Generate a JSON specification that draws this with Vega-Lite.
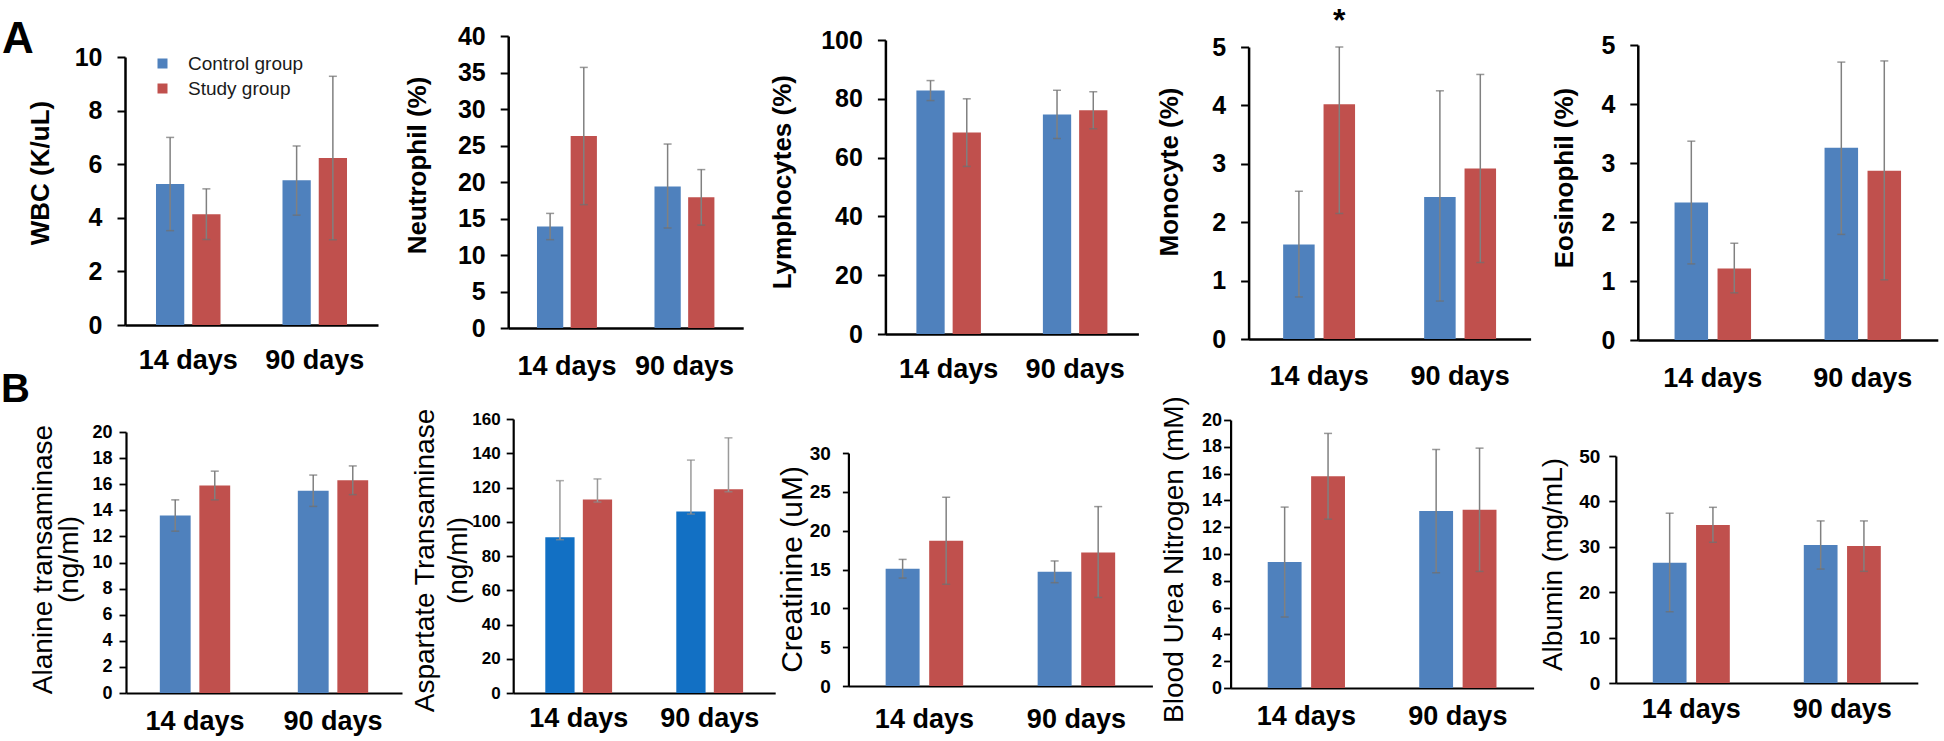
{
  "$schema": "https://vega.github.io/schema/vega-lite/v6.json",
  "padding": 0,
  "background": "white",
  "data": {"values": [
    {"panel": "WBC", "time": "14 days", "group": "Control group", "value": 5.26, "lo": 3.52, "hi": 7.0, "sig": ""},
    {"panel": "WBC", "time": "14 days", "group": "Study group", "value": 4.13, "lo": 3.19, "hi": 5.08, "sig": ""},
    {"panel": "WBC", "time": "90 days", "group": "Control group", "value": 5.4, "lo": 4.1, "hi": 6.68, "sig": ""},
    {"panel": "WBC", "time": "90 days", "group": "Study group", "value": 6.23, "lo": 3.18, "hi": 9.28, "sig": ""},
    {"panel": "NEU", "time": "14 days", "group": "Control group", "value": 13.9, "lo": 12.1, "hi": 15.7, "sig": ""},
    {"panel": "NEU", "time": "14 days", "group": "Study group", "value": 26.3, "lo": 16.9, "hi": 35.7, "sig": ""},
    {"panel": "NEU", "time": "90 days", "group": "Control group", "value": 19.4, "lo": 13.7, "hi": 25.2, "sig": ""},
    {"panel": "NEU", "time": "90 days", "group": "Study group", "value": 17.9, "lo": 14.1, "hi": 21.7, "sig": ""},
    {"panel": "LYM", "time": "14 days", "group": "Control group", "value": 82.8, "lo": 79.4, "hi": 86.2, "sig": ""},
    {"panel": "LYM", "time": "14 days", "group": "Study group", "value": 68.5, "lo": 57.0, "hi": 80.0, "sig": ""},
    {"panel": "LYM", "time": "90 days", "group": "Control group", "value": 74.7, "lo": 66.5, "hi": 82.9, "sig": ""},
    {"panel": "LYM", "time": "90 days", "group": "Study group", "value": 76.1, "lo": 69.8, "hi": 82.4, "sig": ""},
    {"panel": "MON", "time": "14 days", "group": "Control group", "value": 1.62, "lo": 0.72, "hi": 2.53, "sig": ""},
    {"panel": "MON", "time": "14 days", "group": "Study group", "value": 4.02, "lo": 2.15, "hi": 5.0, "sig": "*"},
    {"panel": "MON", "time": "90 days", "group": "Control group", "value": 2.43, "lo": 0.65, "hi": 4.25, "sig": ""},
    {"panel": "MON", "time": "90 days", "group": "Study group", "value": 2.92, "lo": 1.31, "hi": 4.53, "sig": ""},
    {"panel": "EOS", "time": "14 days", "group": "Control group", "value": 2.33, "lo": 1.29, "hi": 3.37, "sig": ""},
    {"panel": "EOS", "time": "14 days", "group": "Study group", "value": 1.21, "lo": 0.8, "hi": 1.64, "sig": ""},
    {"panel": "EOS", "time": "90 days", "group": "Control group", "value": 3.26, "lo": 1.79, "hi": 4.71, "sig": ""},
    {"panel": "EOS", "time": "90 days", "group": "Study group", "value": 2.87, "lo": 1.02, "hi": 4.73, "sig": ""},
    {"panel": "ALT", "time": "14 days", "group": "Control group", "value": 13.6, "lo": 12.4, "hi": 14.8, "sig": ""},
    {"panel": "ALT", "time": "14 days", "group": "Study group", "value": 15.9, "lo": 14.8, "hi": 17.0, "sig": ""},
    {"panel": "ALT", "time": "90 days", "group": "Control group", "value": 15.5, "lo": 14.3, "hi": 16.7, "sig": ""},
    {"panel": "ALT", "time": "90 days", "group": "Study group", "value": 16.3, "lo": 15.2, "hi": 17.4, "sig": ""},
    {"panel": "AST", "time": "14 days", "group": "Control group", "value": 91, "lo": 89.5, "hi": 124, "sig": ""},
    {"panel": "AST", "time": "14 days", "group": "Study group", "value": 113, "lo": 111.5, "hi": 125, "sig": ""},
    {"panel": "AST", "time": "90 days", "group": "Control group", "value": 106, "lo": 104.5, "hi": 136, "sig": ""},
    {"panel": "AST", "time": "90 days", "group": "Study group", "value": 119, "lo": 117.5, "hi": 149, "sig": ""},
    {"panel": "CRE", "time": "14 days", "group": "Control group", "value": 15.1, "lo": 13.9, "hi": 16.3, "sig": ""},
    {"panel": "CRE", "time": "14 days", "group": "Study group", "value": 18.7, "lo": 13.1, "hi": 24.3, "sig": ""},
    {"panel": "CRE", "time": "90 days", "group": "Control group", "value": 14.7, "lo": 13.3, "hi": 16.1, "sig": ""},
    {"panel": "CRE", "time": "90 days", "group": "Study group", "value": 17.2, "lo": 11.4, "hi": 23.1, "sig": ""},
    {"panel": "BUN", "time": "14 days", "group": "Control group", "value": 9.4, "lo": 5.3, "hi": 13.5, "sig": ""},
    {"panel": "BUN", "time": "14 days", "group": "Study group", "value": 15.8, "lo": 12.6, "hi": 19.0, "sig": ""},
    {"panel": "BUN", "time": "90 days", "group": "Control group", "value": 13.2, "lo": 8.6, "hi": 17.8, "sig": ""},
    {"panel": "BUN", "time": "90 days", "group": "Study group", "value": 13.3, "lo": 8.7, "hi": 17.9, "sig": ""},
    {"panel": "ALB", "time": "14 days", "group": "Control group", "value": 26.5, "lo": 15.7, "hi": 37.4, "sig": ""},
    {"panel": "ALB", "time": "14 days", "group": "Study group", "value": 34.8, "lo": 31.0, "hi": 38.7, "sig": ""},
    {"panel": "ALB", "time": "90 days", "group": "Control group", "value": 30.4, "lo": 25.1, "hi": 35.7, "sig": ""},
    {"panel": "ALB", "time": "90 days", "group": "Study group", "value": 30.2, "lo": 24.6, "hi": 35.7, "sig": ""}
  ]},
  "columns": 5,
  "spacing": 0,
  "bounds": "flush",
  "resolve": {"scale": {"color": "independent", "x": "independent", "y": "independent", "xOffset": "independent"}},
  "concat": [
    {
      "width": 388.8, "height": 370,
      "transform": [{"filter": "datum.panel === 'WBC'"}],
      "title": {"text": "A", "anchor": "start", "frame": "group", "orient": "top", "offset": -97, "baseline": "alphabetic", "fontSize": 44, "fontWeight": "bold", "font": "Liberation Sans", "color": "#000", "dx": 2},
      "resolve": {"axis": {"y": "independent"}},
      "encoding": {
        "x": {"field": "time", "type": "nominal", "sort": ["14 days", "90 days"], "scale": {"range": [125, 378], "paddingInner": 0.49, "paddingOuter": 0.245}, "axis": {"title": null, "labelAngle": 0, "labelPadding": 22, "offset": -45}},
        "xOffset": {"field": "group", "type": "nominal", "sort": ["Control group", "Study group"], "scale": {"paddingInner": 0.22, "paddingOuter": 0}}
      },
      "layer": [
        {"mark": {"type": "bar"}, "encoding": {
          "y": {"field": "value", "type": "quantitative", "scale": {"domain": [0, 10], "range": [325, 57], "nice": false}, "axis": {"title": "WBC (K/uL)", "values": [0, 2, 4, 6, 8, 10], "offset": -125, "titleX": -71.5, "titleY": 172.5}},
          "color": {"field": "group", "type": "nominal", "scale": {"domain": ["Control group", "Study group"], "range": ["#4F81BD", "#C0504D"]}, "legend": {"orient": "none", "legendX": 153, "legendY": 54, "direction": "vertical", "title": null, "symbolType": "square", "symbolSize": 100, "symbolStrokeWidth": 0, "labelFont": "Liberation Sans", "labelFontSize": 19, "labelColor": "#1a1a1a", "labelOffset": 16, "rowPadding": 5, "padding": 0}}
        }},
        {"mark": {"type": "rule", "color": "#808080", "strokeWidth": 1.5}, "encoding": {"y": {"field": "lo", "type": "quantitative", "axis": null}, "y2": {"field": "hi"}}},
        {"mark": {"type": "tick", "orient": "horizontal", "color": "#6f6f6f", "thickness": 1.5, "size": 8}, "encoding": {"y": {"field": "lo", "type": "quantitative", "axis": null}}},
        {"mark": {"type": "tick", "orient": "horizontal", "color": "#6f6f6f", "thickness": 1.5, "size": 8}, "encoding": {"y": {"field": "hi", "type": "quantitative", "axis": null}}}
      ]
    },
    {
      "width": 388.8, "height": 370,
      "transform": [{"filter": "datum.panel === 'NEU'"}],
      "resolve": {"axis": {"y": "independent"}},
      "encoding": {
        "x": {"field": "time", "type": "nominal", "sort": ["14 days", "90 days"], "scale": {"range": [119.2, 354.2], "paddingInner": 0.49, "paddingOuter": 0.245}, "axis": {"title": null, "labelAngle": 0, "labelPadding": 25, "offset": -42}},
        "xOffset": {"field": "group", "type": "nominal", "sort": ["Control group", "Study group"], "scale": {"paddingInner": 0.22, "paddingOuter": 0}}
      },
      "layer": [
        {"mark": {"type": "bar"}, "encoding": {
          "y": {"field": "value", "type": "quantitative", "scale": {"domain": [0, 40], "range": [328, 36], "nice": false}, "axis": {"title": "Neutrophil (%)", "values": [0, 5, 10, 15, 20, 25, 30, 35, 40], "offset": -119.2, "titleX": -78, "titleY": 165}},
          "color": {"field": "group", "type": "nominal", "scale": {"domain": ["Control group", "Study group"], "range": ["#4F81BD", "#C0504D"]}, "legend": null}
        }},
        {"mark": {"type": "rule", "color": "#808080", "strokeWidth": 1.5}, "encoding": {"y": {"field": "lo", "type": "quantitative", "axis": null}, "y2": {"field": "hi"}}},
        {"mark": {"type": "tick", "orient": "horizontal", "color": "#6f6f6f", "thickness": 1.5, "size": 8}, "encoding": {"y": {"field": "lo", "type": "quantitative", "axis": null}}},
        {"mark": {"type": "tick", "orient": "horizontal", "color": "#6f6f6f", "thickness": 1.5, "size": 8}, "encoding": {"y": {"field": "hi", "type": "quantitative", "axis": null}}}
      ]
    },
    {
      "width": 388.8, "height": 370,
      "transform": [{"filter": "datum.panel === 'LYM'"}],
      "resolve": {"axis": {"y": "independent"}},
      "encoding": {
        "x": {"field": "time", "type": "nominal", "sort": ["14 days", "90 days"], "scale": {"range": [107.4, 360.4], "paddingInner": 0.49, "paddingOuter": 0.245}, "axis": {"title": null, "labelAngle": 0, "labelPadding": 22, "offset": -36}},
        "xOffset": {"field": "group", "type": "nominal", "sort": ["Control group", "Study group"], "scale": {"paddingInner": 0.22, "paddingOuter": 0}}
      },
      "layer": [
        {"mark": {"type": "bar"}, "encoding": {
          "y": {"field": "value", "type": "quantitative", "scale": {"domain": [0, 100], "range": [334, 40], "nice": false}, "axis": {"title": "Lymphocytes (%)", "values": [0, 20, 40, 60, 80, 100], "offset": -107.4, "titleX": -90, "titleY": 181.7}},
          "color": {"field": "group", "type": "nominal", "scale": {"domain": ["Control group", "Study group"], "range": ["#4F81BD", "#C0504D"]}, "legend": null}
        }},
        {"mark": {"type": "rule", "color": "#808080", "strokeWidth": 1.5}, "encoding": {"y": {"field": "lo", "type": "quantitative", "axis": null}, "y2": {"field": "hi"}}},
        {"mark": {"type": "tick", "orient": "horizontal", "color": "#6f6f6f", "thickness": 1.5, "size": 8}, "encoding": {"y": {"field": "lo", "type": "quantitative", "axis": null}}},
        {"mark": {"type": "tick", "orient": "horizontal", "color": "#6f6f6f", "thickness": 1.5, "size": 8}, "encoding": {"y": {"field": "hi", "type": "quantitative", "axis": null}}}
      ]
    },
    {
      "width": 388.8, "height": 370,
      "transform": [{"filter": "datum.panel === 'MON'"}],
      "resolve": {"axis": {"y": "independent"}},
      "encoding": {
        "x": {"field": "time", "type": "nominal", "sort": ["14 days", "90 days"], "scale": {"range": [81.6, 363.6], "paddingInner": 0.49, "paddingOuter": 0.245}, "axis": {"title": null, "labelAngle": 0, "labelPadding": 24, "offset": -31}},
        "xOffset": {"field": "group", "type": "nominal", "sort": ["Control group", "Study group"], "scale": {"paddingInner": 0.22, "paddingOuter": 0}}
      },
      "layer": [
        {"mark": {"type": "bar"}, "encoding": {
          "y": {"field": "value", "type": "quantitative", "scale": {"domain": [0, 5], "range": [339, 47], "nice": false}, "axis": {"title": "Monocyte (%)", "values": [0, 1, 2, 3, 4, 5], "format": "d", "offset": -81.6, "titleX": -66, "titleY": 171.5}},
          "color": {"field": "group", "type": "nominal", "scale": {"domain": ["Control group", "Study group"], "range": ["#4F81BD", "#C0504D"]}, "legend": null}
        }},
        {"mark": {"type": "rule", "color": "#808080", "strokeWidth": 1.5}, "encoding": {"y": {"field": "lo", "type": "quantitative", "axis": null}, "y2": {"field": "hi"}}},
        {"mark": {"type": "tick", "orient": "horizontal", "color": "#6f6f6f", "thickness": 1.5, "size": 8}, "encoding": {"y": {"field": "lo", "type": "quantitative", "axis": null}}},
        {"mark": {"type": "tick", "orient": "horizontal", "color": "#6f6f6f", "thickness": 1.5, "size": 8}, "encoding": {"y": {"field": "hi", "type": "quantitative", "axis": null}}},
        {"transform": [{"filter": "datum.sig === '*'"}], "mark": {"type": "text", "font": "Liberation Sans", "fontSize": 32, "fontWeight": "bold", "baseline": "alphabetic", "dy": -16, "color": "#000"}, "encoding": {"y": {"field": "hi", "type": "quantitative", "axis": null}, "text": {"field": "sig"}}}
      ]
    },
    {
      "width": 388.8, "height": 370,
      "transform": [{"filter": "datum.panel === 'EOS'"}],
      "resolve": {"axis": {"y": "independent"}},
      "encoding": {
        "x": {"field": "time", "type": "nominal", "sort": ["14 days", "90 days"], "scale": {"range": [81.8, 381.8], "paddingInner": 0.49, "paddingOuter": 0.245}, "axis": {"title": null, "labelAngle": 0, "labelPadding": 25, "offset": -30}},
        "xOffset": {"field": "group", "type": "nominal", "sort": ["Control group", "Study group"], "scale": {"paddingInner": 0.22, "paddingOuter": 0}}
      },
      "layer": [
        {"mark": {"type": "bar"}, "encoding": {
          "y": {"field": "value", "type": "quantitative", "scale": {"domain": [0, 5], "range": [340, 45], "nice": false}, "axis": {"title": "Eosinophil (%)", "values": [0, 1, 2, 3, 4, 5], "format": "d", "offset": -81.8, "titleX": -60, "titleY": 177.5}},
          "color": {"field": "group", "type": "nominal", "scale": {"domain": ["Control group", "Study group"], "range": ["#4F81BD", "#C0504D"]}, "legend": null}
        }},
        {"mark": {"type": "rule", "color": "#808080", "strokeWidth": 1.5}, "encoding": {"y": {"field": "lo", "type": "quantitative", "axis": null}, "y2": {"field": "hi"}}},
        {"mark": {"type": "tick", "orient": "horizontal", "color": "#6f6f6f", "thickness": 1.5, "size": 8}, "encoding": {"y": {"field": "lo", "type": "quantitative", "axis": null}}},
        {"mark": {"type": "tick", "orient": "horizontal", "color": "#6f6f6f", "thickness": 1.5, "size": 8}, "encoding": {"y": {"field": "hi", "type": "quantitative", "axis": null}}}
      ]
    },
    {
      "width": 388.8, "height": 370,
      "transform": [{"filter": "datum.panel === 'ALT'"}],
      "title": {"text": "B", "anchor": "start", "frame": "group", "orient": "top", "offset": -72, "baseline": "alphabetic", "fontSize": 40, "fontWeight": "bold", "font": "Liberation Sans", "color": "#000", "dx": 1},
      "resolve": {"axis": {"y": "independent"}},
      "encoding": {
        "x": {"field": "time", "type": "nominal", "sort": ["14 days", "90 days"], "scale": {"range": [126, 402], "paddingInner": 0.49, "paddingOuter": 0.245}, "axis": {"title": null, "labelAngle": 0, "labelPadding": 15, "offset": -47, "domainWidth": 2.2}},
        "xOffset": {"field": "group", "type": "nominal", "sort": ["Control group", "Study group"], "scale": {"paddingInner": 0.22, "paddingOuter": 0}}
      },
      "layer": [
        {"mark": {"type": "bar"}, "encoding": {
          "y": {"field": "value", "type": "quantitative", "scale": {"domain": [0, 20], "range": [323, 62], "nice": false}, "axis": {"title": ["Alanine transaminase", "(ng/ml)"], "values": [0, 2, 4, 6, 8, 10, 12, 14, 16, 18, 20], "labelOverlap": false, "offset": -126, "titleX": -69, "titleY": 189, "titleFontWeight": "normal", "titleFontSize": 28, "titleLineHeight": 26, "labelFontSize": 18, "tickSize": 7, "labelPadding": 7, "domainWidth": 2.2, "tickWidth": 1.8}},
          "color": {"field": "group", "type": "nominal", "scale": {"domain": ["Control group", "Study group"], "range": ["#4F81BD", "#C0504D"]}, "legend": null}
        }},
        {"mark": {"type": "rule", "color": "#808080", "strokeWidth": 1.5}, "encoding": {"y": {"field": "lo", "type": "quantitative", "axis": null}, "y2": {"field": "hi"}}},
        {"mark": {"type": "tick", "orient": "horizontal", "color": "#6f6f6f", "thickness": 1.5, "size": 8}, "encoding": {"y": {"field": "lo", "type": "quantitative", "axis": null}}},
        {"mark": {"type": "tick", "orient": "horizontal", "color": "#6f6f6f", "thickness": 1.5, "size": 8}, "encoding": {"y": {"field": "hi", "type": "quantitative", "axis": null}}}
      ]
    },
    {
      "width": 388.8, "height": 370,
      "transform": [{"filter": "datum.panel === 'AST'"}],
      "resolve": {"axis": {"y": "independent"}},
      "encoding": {
        "x": {"field": "time", "type": "nominal", "sort": ["14 days", "90 days"], "scale": {"range": [124.2, 386.2], "paddingInner": 0.49, "paddingOuter": 0.245}, "axis": {"title": null, "labelAngle": 0, "labelPadding": 12, "offset": -47, "domainWidth": 2.2}},
        "xOffset": {"field": "group", "type": "nominal", "sort": ["Control group", "Study group"], "scale": {"paddingInner": 0.22, "paddingOuter": 0}}
      },
      "layer": [
        {"mark": {"type": "bar"}, "encoding": {
          "y": {"field": "value", "type": "quantitative", "scale": {"domain": [0, 160], "range": [323, 49], "nice": false}, "axis": {"title": ["Aspartate Transaminase", "(ng/ml)"], "values": [0, 20, 40, 60, 80, 100, 120, 140, 160], "labelOverlap": false, "offset": -124.2, "titleX": -74, "titleY": 190, "titleFontWeight": "normal", "titleFontSize": 28, "titleLineHeight": 33, "labelFontSize": 17, "tickSize": 7, "labelPadding": 6, "domainWidth": 2.2, "tickWidth": 1.8}},
          "color": {"field": "group", "type": "nominal", "scale": {"domain": ["Control group", "Study group"], "range": ["#1270C4", "#C0504D"]}, "legend": null}
        }},
        {"mark": {"type": "rule", "color": "#9a9a9a", "strokeWidth": 1.5}, "encoding": {"y": {"field": "lo", "type": "quantitative", "axis": null}, "y2": {"field": "hi"}}},
        {"mark": {"type": "tick", "orient": "horizontal", "color": "#8a8a8a", "thickness": 1.5, "size": 8}, "encoding": {"y": {"field": "lo", "type": "quantitative", "axis": null}}},
        {"mark": {"type": "tick", "orient": "horizontal", "color": "#8a8a8a", "thickness": 1.5, "size": 8}, "encoding": {"y": {"field": "hi", "type": "quantitative", "axis": null}}}
      ]
    },
    {
      "width": 388.8, "height": 370,
      "transform": [{"filter": "datum.panel === 'CRE'"}],
      "resolve": {"axis": {"y": "independent"}},
      "encoding": {
        "x": {"field": "time", "type": "nominal", "sort": ["14 days", "90 days"], "scale": {"range": [70.4, 374.4], "paddingInner": 0.49, "paddingOuter": 0.245}, "axis": {"title": null, "labelAngle": 0, "labelPadding": 20, "offset": -54, "domainWidth": 2.2}},
        "xOffset": {"field": "group", "type": "nominal", "sort": ["Control group", "Study group"], "scale": {"paddingInner": 0.22, "paddingOuter": 0}}
      },
      "layer": [
        {"mark": {"type": "bar"}, "encoding": {
          "y": {"field": "value", "type": "quantitative", "scale": {"domain": [0, 30], "range": [316, 83], "nice": false}, "axis": {"title": "Creatinine (uM)", "values": [0, 5, 10, 15, 20, 25, 30], "labelOverlap": false, "offset": -70.4, "titleX": -41, "titleY": 199, "titleFontWeight": "normal", "titleFontSize": 30, "labelFontSize": 19, "tickSize": 6, "labelPadding": 12, "domainWidth": 2.2, "tickWidth": 1.8}},
          "color": {"field": "group", "type": "nominal", "scale": {"domain": ["Control group", "Study group"], "range": ["#4F81BD", "#C0504D"]}, "legend": null}
        }},
        {"mark": {"type": "rule", "color": "#808080", "strokeWidth": 1.5}, "encoding": {"y": {"field": "lo", "type": "quantitative", "axis": null}, "y2": {"field": "hi"}}},
        {"mark": {"type": "tick", "orient": "horizontal", "color": "#6f6f6f", "thickness": 1.5, "size": 8}, "encoding": {"y": {"field": "lo", "type": "quantitative", "axis": null}}},
        {"mark": {"type": "tick", "orient": "horizontal", "color": "#6f6f6f", "thickness": 1.5, "size": 8}, "encoding": {"y": {"field": "hi", "type": "quantitative", "axis": null}}}
      ]
    },
    {
      "width": 388.8, "height": 370,
      "transform": [{"filter": "datum.panel === 'BUN'"}],
      "resolve": {"axis": {"y": "independent"}},
      "encoding": {
        "x": {"field": "time", "type": "nominal", "sort": ["14 days", "90 days"], "scale": {"range": [63.6, 366.6], "paddingInner": 0.49, "paddingOuter": 0.245}, "axis": {"title": null, "labelAngle": 0, "labelPadding": 15, "offset": -52, "domainWidth": 2.2}},
        "xOffset": {"field": "group", "type": "nominal", "sort": ["Control group", "Study group"], "scale": {"paddingInner": 0.22, "paddingOuter": 0}}
      },
      "layer": [
        {"mark": {"type": "bar"}, "encoding": {
          "y": {"field": "value", "type": "quantitative", "scale": {"domain": [0, 20], "range": [318, 50], "nice": false}, "axis": {"title": "Blood Urea Nitrogen (mM)", "values": [0, 2, 4, 6, 8, 10, 12, 14, 16, 18, 20], "labelOverlap": false, "offset": -63.6, "titleX": -42, "titleY": 189, "titleFontWeight": "normal", "titleFontSize": 28, "labelFontSize": 18, "tickSize": 7, "labelPadding": 2, "domainWidth": 2.2, "tickWidth": 1.8}},
          "color": {"field": "group", "type": "nominal", "scale": {"domain": ["Control group", "Study group"], "range": ["#4F81BD", "#C0504D"]}, "legend": null}
        }},
        {"mark": {"type": "rule", "color": "#808080", "strokeWidth": 1.5}, "encoding": {"y": {"field": "lo", "type": "quantitative", "axis": null}, "y2": {"field": "hi"}}},
        {"mark": {"type": "tick", "orient": "horizontal", "color": "#6f6f6f", "thickness": 1.5, "size": 8}, "encoding": {"y": {"field": "lo", "type": "quantitative", "axis": null}}},
        {"mark": {"type": "tick", "orient": "horizontal", "color": "#6f6f6f", "thickness": 1.5, "size": 8}, "encoding": {"y": {"field": "hi", "type": "quantitative", "axis": null}}}
      ]
    },
    {
      "width": 388.8, "height": 370,
      "transform": [{"filter": "datum.panel === 'ALB'"}],
      "resolve": {"axis": {"y": "independent"}},
      "encoding": {
        "x": {"field": "time", "type": "nominal", "sort": ["14 days", "90 days"], "scale": {"range": [59.8, 361.8], "paddingInner": 0.49, "paddingOuter": 0.245}, "axis": {"title": null, "labelAngle": 0, "labelPadding": 13, "offset": -57, "domainWidth": 2.2}},
        "xOffset": {"field": "group", "type": "nominal", "sort": ["Control group", "Study group"], "scale": {"paddingInner": 0.22, "paddingOuter": 0}}
      },
      "layer": [
        {"mark": {"type": "bar"}, "encoding": {
          "y": {"field": "value", "type": "quantitative", "scale": {"domain": [0, 50], "range": [313, 86], "nice": false}, "axis": {"title": "Albumin (mg/mL)", "values": [0, 10, 20, 30, 40, 50], "labelOverlap": false, "offset": -59.8, "titleX": -48, "titleY": 194, "titleFontWeight": "normal", "titleFontSize": 28, "labelFontSize": 19, "tickSize": 7, "labelPadding": 9, "domainWidth": 2.2, "tickWidth": 1.8}},
          "color": {"field": "group", "type": "nominal", "scale": {"domain": ["Control group", "Study group"], "range": ["#4F81BD", "#C0504D"]}, "legend": null}
        }},
        {"mark": {"type": "rule", "color": "#808080", "strokeWidth": 1.5}, "encoding": {"y": {"field": "lo", "type": "quantitative", "axis": null}, "y2": {"field": "hi"}}},
        {"mark": {"type": "tick", "orient": "horizontal", "color": "#6f6f6f", "thickness": 1.5, "size": 8}, "encoding": {"y": {"field": "lo", "type": "quantitative", "axis": null}}},
        {"mark": {"type": "tick", "orient": "horizontal", "color": "#6f6f6f", "thickness": 1.5, "size": 8}, "encoding": {"y": {"field": "hi", "type": "quantitative", "axis": null}}}
      ]
    }
  ],
  "config": {
    "view": {"stroke": null},
    "font": "Liberation Sans",
    "axis": {"grid": false, "domainColor": "#000", "domainWidth": 2.5, "tickColor": "#000", "tickWidth": 2, "labelColor": "#000", "titleColor": "#000", "labelFont": "Liberation Sans", "titleFont": "Liberation Sans", "labelFontWeight": "bold"},
    "axisX": {"ticks": false, "tickSize": 0, "labelFontSize": 27, "labelBaseline": "top"},
    "axisY": {"tickSize": 8, "labelFontSize": 25, "labelPadding": 15, "labelOverlap": false, "titleFontWeight": "bold", "titleFontSize": 26, "titleAngle": 270, "titleBaseline": "bottom", "titleAlign": "center"}
  }
}
